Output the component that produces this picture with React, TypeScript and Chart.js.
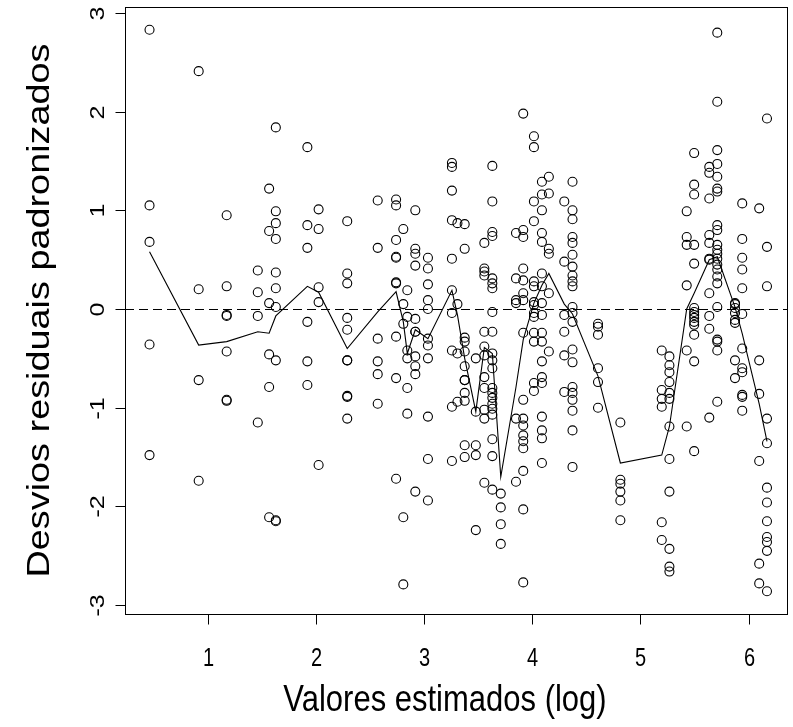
import React, { useEffect, useRef } from "react";
import { Chart, registerables } from "chart.js";

Chart.register(...registerables);

// Fitted values (log) of each column of points
const groupX = [
  0.456, 0.911, 1.17, 1.458, 1.563, 1.625, 1.917, 2.021, 2.286, 2.568,
  2.738, 2.805, 2.842, 2.916, 3.033, 3.255, 3.306, 3.373, 3.476, 3.555,
  3.629, 3.707, 3.848, 3.915, 4.014, 4.088, 4.152, 4.295, 4.371, 4.607,
  4.814, 5.197, 5.268, 5.428, 5.497, 5.637, 5.711, 5.875, 5.942, 6.099,
  6.171,
];

// Standardized deviance residuals for each column above
const groupResiduals = [
  [2.83, 1.05, 0.68, -0.36, -1.48],
  [2.41, 0.2, -0.72, -1.74],
  [0.95, 0.23, -0.06, -0.07, -0.43, -0.92, -0.93],
  [0.39, 0.17, -0.07, -1.15],
  [1.22, 0.79, 0.06, -0.46, -0.79, -2.11],
  [1.84, 0.99, 0.87, 0.71, 0.37, 0.21, 0.02, -0.52, -2.14, -2.15],
  [1.64, 0.85, 0.62, -0.13, -0.53, -0.77],
  [1.01, 0.81, 0.22, 0.07, -1.58],
  [0.89, 0.36, 0.26, -0.09, -0.21, -0.52, -0.52, -0.88, -0.89, -1.11],
  [1.1, 0.62, -0.3, -0.53, -0.66, -0.96],
  [1.11, 1.05, 0.7, 0.52, 0.53, 0.27, 0.26, -0.28, -0.7, -1.72],
  [0.81, 0.05, -0.15, -2.11, -2.79],
  [0.19, -0.08, -0.42, -0.5, -0.8, -1.06],
  [1.0, 0.61, 0.56, 0.44, -0.1, -0.23, -0.23, -0.48, -0.58, -0.66, -1.85],
  [0.52, 0.41, 0.25, 0.09, 0.0, -0.3, -0.37, -0.5, -1.09, -1.52, -1.94],
  [1.48, 1.44, 1.2, 0.9, 0.51, 0.19, -0.04, -0.42, -0.99, -1.54],
  [0.87, 0.05, -0.45, -0.94],
  [0.86, 0.61, -0.29, -0.33, -0.43, -0.58, -0.72, -0.72, -0.85, -0.93, -1.38, -1.5],
  [-0.5, -1.04, -1.38, -1.48, -2.24],
  [0.67, 0.41, 0.38, 0.34, -0.23, -0.38, -0.47, -0.69, -0.8, -1.02, -1.11, -1.76],
  [1.45, 1.09, 0.78, 0.74, 0.31, 0.26, 0.21, -0.03, -0.23, -0.45, -0.52, -0.6, -0.8, -0.85, -0.9, -0.96, -1.01, -1.07, -1.32, -1.49, -1.83],
  [-1.87, -2.01, -2.18, -2.38],
  [0.77, 0.31, 0.09, 0.06, -1.11, -1.75],
  [1.98, 0.8, 0.73, 0.41, 0.29, 0.16, 0.09, -0.24, -0.92, -1.11, -1.18, -1.28, -1.34, -1.41, -1.64, -2.03, -2.77],
  [1.75, 1.64, 1.09, 0.89, 0.28, 0.23, 0.07, 0.04, -0.04, -0.08, -0.24, -0.33, -0.75, -0.83],
  [1.29, 1.16, 1.0, 0.77, 0.68, 0.36, 0.23, 0.06, -0.06, -0.24, -0.33, -0.53, -0.69, -0.75, -1.09, -1.23, -1.31, -1.56],
  [1.34, 1.17, 0.61, 0.56, 0.16, -0.43],
  [1.09, 0.48, -0.06, -0.23, -0.47, -0.84],
  [1.29, 1.0, 0.91, 0.73, 0.67, 0.55, 0.43, 0.34, 0.28, 0.23, 0.02, -0.04, -0.13, -0.41, -0.54, -0.79, -0.85, -0.92, -1.03, -1.23, -1.6],
  [-0.15, -0.18, -0.26, -0.6, -0.74, -1.0],
  [-1.15, -1.73, -1.77, -1.85, -1.94, -2.14],
  [-0.42, -0.82, -0.91, -0.99, -2.16, -2.34],
  [-0.48, -0.57, -0.64, -0.74, -0.85, -0.91, -1.19, -1.52, -1.85, -2.43, -2.61, -2.66],
  [0.99, 0.73, 0.65, 0.24, -0.42, -1.19],
  [1.58, 1.26, 1.16, 0.65, 0.46, 0.01, -0.03, -0.06, -0.09, -0.13, -0.16, -0.26, -0.53, -1.44],
  [1.44, 1.38, 1.12, 0.75, 0.67, 0.51, 0.5, 0.16, -0.07, -0.2, -1.1],
  [2.8, 2.1, 1.61, 1.47, 1.34, 1.22, 1.19, 0.85, 0.8, 0.65, 0.6, 0.56, 0.51, 0.45, 0.4, 0.33, 0.26, 0.02, -0.31, -0.33, -0.42, -0.94],
  [0.06, 0.05, 0.01, -0.04, -0.11, -0.14, -0.52, -0.7],
  [1.07, 0.71, 0.52, 0.4, 0.21, -0.05, -0.4, -0.6, -0.64, -0.87, -0.89, -1.03],
  [1.02, -0.52, -0.86, -1.54, -2.58, -2.78],
  [1.93, 0.63, 0.23, -1.11, -1.36, -1.81, -1.96, -2.15, -2.31, -2.36, -2.45, -2.86],
];

// Smoothed (lowess-like) curve through the residuals, one value per column
const smoothY = [
  0.58, -0.365, -0.33, -0.23, -0.245, -0.07, 0.23, 0.17, -0.4, -0.03,
  0.175, -0.13, -0.45, -0.21, -0.3, 0.19, -0.06, -0.5, -1.04, -0.39,
  -0.45, -1.7, -0.79, -0.31, 0.06, 0.24, 0.36, 0.05, -0.05, -0.68,
  -1.56, -1.48, -1.19, 0.0, 0.16, 0.5, 0.53, 0.02, -0.25, -0.96,
  -1.34,
];

const xTicks = [1, 2, 3, 4, 5, 6];
const yTicks = [-3, -2, -1, 0, 1, 2, 3];
const xTitle = "Valores estimados (log)";
const yTitle = "Desvios residuais padronizados";
const refLineY = 0;

const X_MIN = 0.229;
const X_MAX = 6.36;
const Y_MIN = -3.09;
const Y_MAX = 3.06;

const FONT = '"Liberation Sans", Arial, sans-serif';

function drawText(
  ctx: CanvasRenderingContext2D,
  text: string,
  x: number,
  y: number,
  size: number,
  rot: number,
  stretch: number
) {
  ctx.save();
  ctx.translate(x, y);
  ctx.scale(1, stretch);
  ctx.rotate(rot);
  ctx.font = `${size}px ${FONT}`;
  ctx.textAlign = "center";
  ctx.textBaseline = "middle";
  ctx.fillStyle = "#000";
  ctx.fillText(text, 0, 0);
  ctx.restore();
}

const rAxesPlugin = {
  id: "rAxes",
  afterDatasetsDraw(chart: any) {
    const { ctx, chartArea: a, scales } = chart;
    const ys = scales.y;
    ctx.save();
    ctx.strokeStyle = "#000";
    ctx.lineWidth = 1;
    ctx.setLineDash([9, 5]);
    const py = Math.round(ys.getPixelForValue(refLineY)) + 0.5;
    ctx.beginPath();
    ctx.moveTo(a.left, py);
    ctx.lineTo(a.right, py);
    ctx.stroke();
    ctx.restore();
  },
  afterDraw(chart: any) {
    const { ctx, chartArea: a, scales } = chart;
    const xs = scales.x;
    const ys = scales.y;
    ctx.save();
    ctx.strokeStyle = "#000";
    ctx.lineWidth = 1;
    ctx.setLineDash([]);
    const l = Math.round(a.left) + 0.5;
    const t = Math.round(a.top) + 0.5;
    const r = Math.round(a.right) + 0.5;
    const b = Math.round(a.bottom) + 0.5;
    ctx.strokeRect(l, t, r - l, b - t);

    for (const v of xTicks) {
      const px = Math.round(xs.getPixelForValue(v)) + 0.5;
      ctx.beginPath();
      ctx.moveTo(px, b);
      ctx.lineTo(px, b + 10);
      ctx.stroke();
      drawText(ctx, String(v), px, 659, 20, 0, 1.25);
    }
    for (const v of yTicks) {
      const py = Math.round(ys.getPixelForValue(v)) + 0.5;
      ctx.beginPath();
      ctx.moveTo(l - 10, py);
      ctx.lineTo(l, py);
      ctx.stroke();
      drawText(ctx, String(v), 98, py, 20, -Math.PI / 2, 1.25);
    }
    drawText(ctx, xTitle, 445, 701, 31, 0, 1.22);
    drawText(ctx, yTitle, 40, (a.top + a.bottom) / 2, 31, -Math.PI / 2, 1.22);
    ctx.restore();
  },
};

export default function App() {
  const canvasRef = useRef<HTMLCanvasElement | null>(null);

  useEffect(() => {
    document.body.style.margin = "0";
    const canvas = canvasRef.current;
    if (!canvas) return;

    const points: { x: number; y: number }[] = [];
    groupX.forEach((gx, i) => {
      groupResiduals[i].forEach((r) => points.push({ x: gx, y: r }));
    });
    const smooth = groupX.map((gx, i) => ({ x: gx, y: smoothY[i] }));

    const chart = new Chart(canvas, {
      type: "scatter",
      data: {
        datasets: [
          {
            data: points,
            pointStyle: "circle",
            pointRadius: 4.5,
            pointBorderWidth: 1.1,
            borderColor: "#000",
            backgroundColor: "rgba(0,0,0,0)",
            showLine: false,
          },
          {
            data: smooth,
            showLine: true,
            pointRadius: 0,
            borderColor: "#000",
            borderWidth: 1.1,
            tension: 0,
          },
        ],
      },
      options: {
        responsive: false,
        animation: false,
        events: [],
        layout: { padding: { left: 125, right: 3, top: 7, bottom: 113 } },
        plugins: { legend: { display: false }, tooltip: { enabled: false } },
        scales: {
          x: { type: "linear", min: X_MIN, max: X_MAX, display: false },
          y: { type: "linear", min: Y_MIN, max: Y_MAX, display: false },
        },
      },
      plugins: [rAxesPlugin],
    });
    return () => chart.destroy();
  }, []);

  return (
    <div style={{ position: "absolute", left: 0, top: 0, background: "#fff" }}>
      <canvas ref={canvasRef} width={793} height={727} style={{ display: "block" }} />
    </div>
  );
}
